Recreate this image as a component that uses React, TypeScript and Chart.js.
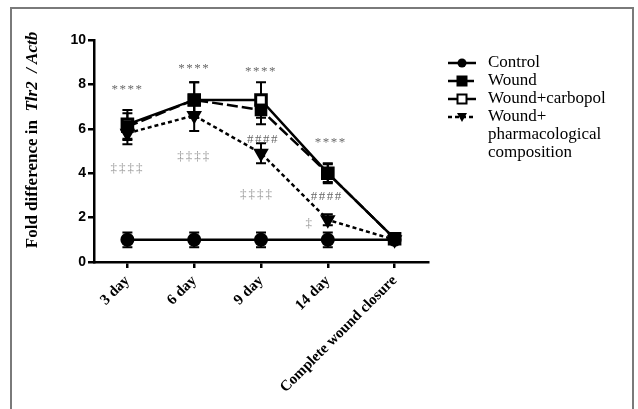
import React, { useEffect, useRef } from "react";
import { Chart, registerables } from "chart.js";

Chart.register(...registerables);

const categories = ["3 day", "6 day", "9 day", "14 day", "Complete wound closure"];
const controlValues = [1, 1, 1, 1, 1];
const controlErrors = [0.33, 0.33, 0.33, 0.33, 0.15];
const woundValues = [6.1, 7.3, 6.85, 4.0, 1.05];
const woundErrors = [0.6, 0.8, 0.65, 0.4, 0.15];
const carbopolValues = [6.2, 7.3, 7.3, 4.0, 1.05];
const carbopolErrors = [0.65, 0.8, 0.8, 0.45, 0.15];
const pharmValues = [5.8, 6.6, 4.9, 1.9, 1.0];
const pharmErrors = [0.5, 0.7, 0.45, 0.25, 0.15];
const yTicks = [0, 2, 4, 6, 8, 10];

// significance marks: category index, value level, text
const markCategory = [0, 1, 2, 3, 2, 3, 0, 1, 2, 3];
const markLevel = [7.75, 8.7, 8.6, 5.4, 5.5, 2.95, 4.2, 4.75, 3.05, 1.75];
const markText = ["****", "****", "****", "****", "####", "####", "‡‡‡‡", "‡‡‡‡", "‡‡‡‡", "‡"];
const markShift = [0, 0, 0, 3, 2, -1, 0, 0, -4, -18];

const legendLines = [
  ["Control"],
  ["Wound"],
  ["Wound+carbopol"],
  ["Wound+", "pharmacological", "composition"],
];

const errorSets = [controlErrors, woundErrors, carbopolErrors, pharmErrors];

const errorBarPlugin = {
  id: "errorBars",
  beforeDatasetsDraw(chart: any) {
    const ctx = chart.ctx;
    const xs = chart.scales.x;
    const ys = chart.scales.y;
    ctx.save();
    ctx.strokeStyle = "#000";
    ctx.lineWidth = 2;
    ctx.setLineDash([]);
    chart.data.datasets.forEach((ds: any, di: number) => {
      const errs = errorSets[di];
      ds.data.forEach((v: number, i: number) => {
        const x = xs.getPixelForValue(i);
        const yTop = ys.getPixelForValue(v + errs[i]);
        const yBot = ys.getPixelForValue(v - errs[i]);
        ctx.beginPath();
        ctx.moveTo(x, yTop);
        ctx.lineTo(x, yBot);
        ctx.moveTo(x - 5, yTop);
        ctx.lineTo(x + 5, yTop);
        ctx.moveTo(x - 5, yBot);
        ctx.lineTo(x + 5, yBot);
        ctx.stroke();
      });
    });
    ctx.restore();
  },
};

const decorPlugin = {
  id: "decor",
  beforeDraw(chart: any) {
    const ctx = chart.ctx;
    ctx.save();
    ctx.fillStyle = "#fff";
    ctx.fillRect(0, 0, chart.width, chart.height);
    ctx.strokeStyle = "#7a7a7a";
    ctx.lineWidth = 2;
    ctx.strokeRect(11, 8, 622, 440);
    ctx.restore();
  },
  afterDraw(chart: any) {
    const ctx = chart.ctx;
    const xs = chart.scales.x;
    const ys = chart.scales.y;
    ctx.save();
    // y axis title with italic gene names
    ctx.translate(33, 140);
    ctx.rotate(-Math.PI / 2);
    ctx.textBaseline = "middle";
    ctx.fillStyle = "#000";
    const p1 = "Fold difference in  ";
    const p2 = "Tlr2  / Actb";
    const f1 = "bold 17px 'Liberation Serif', 'Times New Roman', serif";
    const f2 = "italic bold 17px 'Liberation Serif', 'Times New Roman', serif";
    ctx.font = f1;
    const w1 = ctx.measureText(p1).width;
    ctx.font = f2;
    const w2 = ctx.measureText(p2).width;
    const start = -(w1 + w2) / 2;
    ctx.font = f1;
    ctx.textAlign = "left";
    ctx.fillText(p1, start, 0);
    ctx.font = f2;
    ctx.fillText(p2, start + w1, 0);
    ctx.restore();

    // significance marks
    ctx.save();
    ctx.textAlign = "center";
    ctx.textBaseline = "middle";
    markText.forEach((t, i) => {
      const x = xs.getPixelForValue(markCategory[i]) + markShift[i];
      const y = ys.getPixelForValue(markLevel[i]);
      const isDagger = t.startsWith("‡");
      ctx.fillStyle = isDagger ? "#9a9a9a" : "#6a6a6a";
      ctx.font = "13px 'Liberation Serif', 'Times New Roman', serif";
      (ctx as any).letterSpacing = isDagger ? "2px" : "1.5px";
      ctx.fillText(t, x, y);
    });
    ctx.restore();

    // legend
    ctx.save();
    const lx0 = 448;
    const lx1 = 476;
    const tx = 488;
    const rowY = [63, 81, 99, 117];
    const lineGap = 18;
    chart.data.datasets.forEach((ds: any, di: number) => {
      const y = rowY[di];
      ctx.strokeStyle = "#000";
      ctx.lineWidth = 2.5;
      ctx.setLineDash(ds.borderDash || []);
      ctx.beginPath();
      ctx.moveTo(lx0, y);
      ctx.lineTo(lx1, y);
      ctx.stroke();
      ctx.setLineDash([]);
      const cx = (lx0 + lx1) / 2;
      ctx.fillStyle = ds.pointBackgroundColor;
      ctx.lineWidth = 2;
      ctx.beginPath();
      if (ds.pointStyle === "circle") {
        ctx.arc(cx, y, 4.5, 0, Math.PI * 2);
        ctx.fill();
      } else if (ds.pointStyle === "rect") {
        ctx.rect(cx - 4.5, y - 4.5, 9, 9);
        ctx.fill();
        ctx.stroke();
      } else {
        ctx.moveTo(cx - 5, y - 4);
        ctx.lineTo(cx + 5, y - 4);
        ctx.lineTo(cx, y + 5);
        ctx.closePath();
        ctx.fill();
      }
      ctx.fillStyle = "#000";
      ctx.font = "17px 'Liberation Serif', 'Times New Roman', serif";
      ctx.textAlign = "left";
      ctx.textBaseline = "middle";
      legendLines[di].forEach((line, li) => {
        ctx.fillText(line, tx, y + li * lineGap);
      });
    });
    ctx.restore();
  },
};

export default function App() {
  const ref = useRef<HTMLCanvasElement>(null);
  useEffect(() => {
    if (!ref.current) return;
    const common = {
      borderColor: "#000",
      borderWidth: 2.5,
      pointBorderColor: "#000",
      pointBorderWidth: 2,
      tension: 0,
      fill: false,
    };
    const chart = new Chart(ref.current, {
      type: "line",
      data: {
        labels: categories,
        datasets: [
          {
            ...common,
            label: "Control",
            data: controlValues,
            pointStyle: "circle",
            pointRadius: 6,
            pointBackgroundColor: "#000",
            borderDash: [],
          },
          {
            ...common,
            label: "Wound",
            data: woundValues,
            pointStyle: "rect",
            pointRadius: 7.5,
            pointBackgroundColor: "#000",
            borderDash: [11, 4],
          },
          {
            ...common,
            label: "Wound+carbopol",
            data: carbopolValues,
            pointStyle: "rect",
            pointRadius: 7.5,
            pointBorderWidth: 3,
            pointBackgroundColor: "#fff",
            borderDash: [],
          },
          {
            ...common,
            label: "Wound+ pharmacological composition",
            data: pharmValues,
            pointStyle: "triangle",
            pointRotation: 180,
            pointRadius: 7,
            pointBackgroundColor: "#000",
            borderDash: [4, 3],
          },
        ],
      } as any,
      options: {
        animation: false,
        responsive: false,
        devicePixelRatio: 1,
        layout: { padding: { left: 0, right: 210, top: 40, bottom: 0 } },
        plugins: {
          legend: { display: false },
          tooltip: { enabled: false },
          title: { display: false },
        },
        scales: {
          x: {
            type: "category",
            offset: true,
            border: { display: true, color: "#000", width: 2.5 },
            grid: {
              display: true,
              drawOnChartArea: false,
              drawTicks: true,
              tickLength: 6,
              color: "#000",
              lineWidth: 2.5,
              offset: false,
            },
            ticks: {
              color: "#000",
              minRotation: 45,
              maxRotation: 45,
              autoSkip: false,
              padding: 4,
              font: { family: "'Liberation Serif', 'Times New Roman', serif", size: 15, weight: "bold" },
            },
            afterFit: (s: any) => {
              s.height = 147;
            },
          },
          y: {
            min: 0,
            max: 10,
            afterBuildTicks: (s: any) => {
              s.ticks = yTicks.map((v) => ({ value: v }));
            },
            border: { display: true, color: "#000", width: 2.5 },
            grid: {
              display: true,
              drawOnChartArea: false,
              drawTicks: true,
              tickLength: 6,
              color: "#000",
              lineWidth: 2.5,
            },
            ticks: {
              color: "#000",
              padding: 2,
              font: { family: "'Liberation Sans', Arial, sans-serif", size: 14, weight: "bold" },
            },
            afterFit: (s: any) => {
              s.width = 94;
            },
          },
        },
      } as any,
      plugins: [decorPlugin, errorBarPlugin],
    });
    return () => chart.destroy();
  }, []);
  return (
    <div style={{ position: "fixed", left: 0, top: 0, width: 638, height: 409, background: "#fff" }}>
      <canvas ref={ref} width={638} height={409} style={{ display: "block" }} />
    </div>
  );
}
